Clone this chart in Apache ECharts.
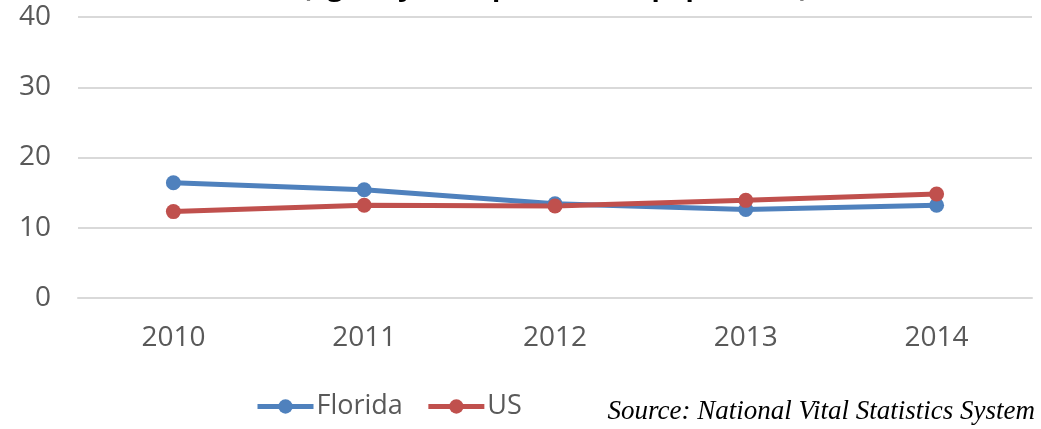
<!DOCTYPE html>
<html><head><meta charset="utf-8">
<script src="https://cdn.jsdelivr.net/npm/echarts@6/dist/echarts.min.js"></script>
<style>html,body{margin:0;padding:0;background:#fff}#c{width:1041px;height:429px}</style>
</head><body><div id="c"></div>
<script>
const categories = ['2010','2011','2012','2013','2014'];
const florida = [16.4, 15.4, 13.4, 12.6, 13.2];
const us = [12.3, 13.2, 13.1, 13.9, 14.8];
const yTicks = {min: 0, max: 40, interval: 10};
const titleText = '(age-adjusted per 100,000 population)';
const sourceText = 'Source: National Vital Statistics System';

const chart = echarts.init(document.getElementById('c'), null, {renderer: 'canvas'});
const font = '"Open Sans", sans-serif';
chart.setOption({
  animation: false,
  title: [{
    text: titleText, left: 302, top: -25, padding: 0,
    textStyle: {fontFamily: font, fontSize: 27, fontWeight: 'bold', color: '#000'}
  }],
  graphic: [{
    type: 'text', right: 6, top: 398,
    style: {text: sourceText, font: 'italic 27px "Liberation Serif", serif', fill: '#000'}
  }],
  grid: {left: 78, right: 9, top: 17, bottom: 131},
  legend: {
    left: 250, top: 388, itemWidth: 56, itemHeight: 18, itemGap: 23,
    lineStyle: {width: 5},
    textStyle: {fontFamily: font, fontSize: 27, color: '#595959', padding: [0,0,0,-2]},
    data: ['Florida','US']
  },
  xAxis: {
    type: 'category', data: categories, boundaryGap: true,
    axisLine: {show: true, lineStyle: {color: '#D9D9D9', width: 2}},
    axisTick: {show: false},
    axisLabel: {fontFamily: font, fontSize: 28, color: '#595959', margin: 26}
  },
  yAxis: {
    type: 'value', min: yTicks.min, max: yTicks.max, interval: yTicks.interval,
    axisLine: {show: false}, axisTick: {show: false},
    splitLine: {lineStyle: {color: '#D9D9D9', width: 2}},
    axisLabel: {fontFamily: font, fontSize: 28, color: '#595959', margin: 27}
  },
  series: [
    {name: 'Florida', type: 'line', data: florida, symbol: 'circle', symbolSize: 15,
     lineStyle: {width: 5, color: '#4F81BD'}, itemStyle: {color: '#4F81BD'}},
    {name: 'US', type: 'line', data: us, symbol: 'circle', symbolSize: 15,
     lineStyle: {width: 5, color: '#C0504D'}, itemStyle: {color: '#C0504D'}}
  ]
});
</script></body></html>
